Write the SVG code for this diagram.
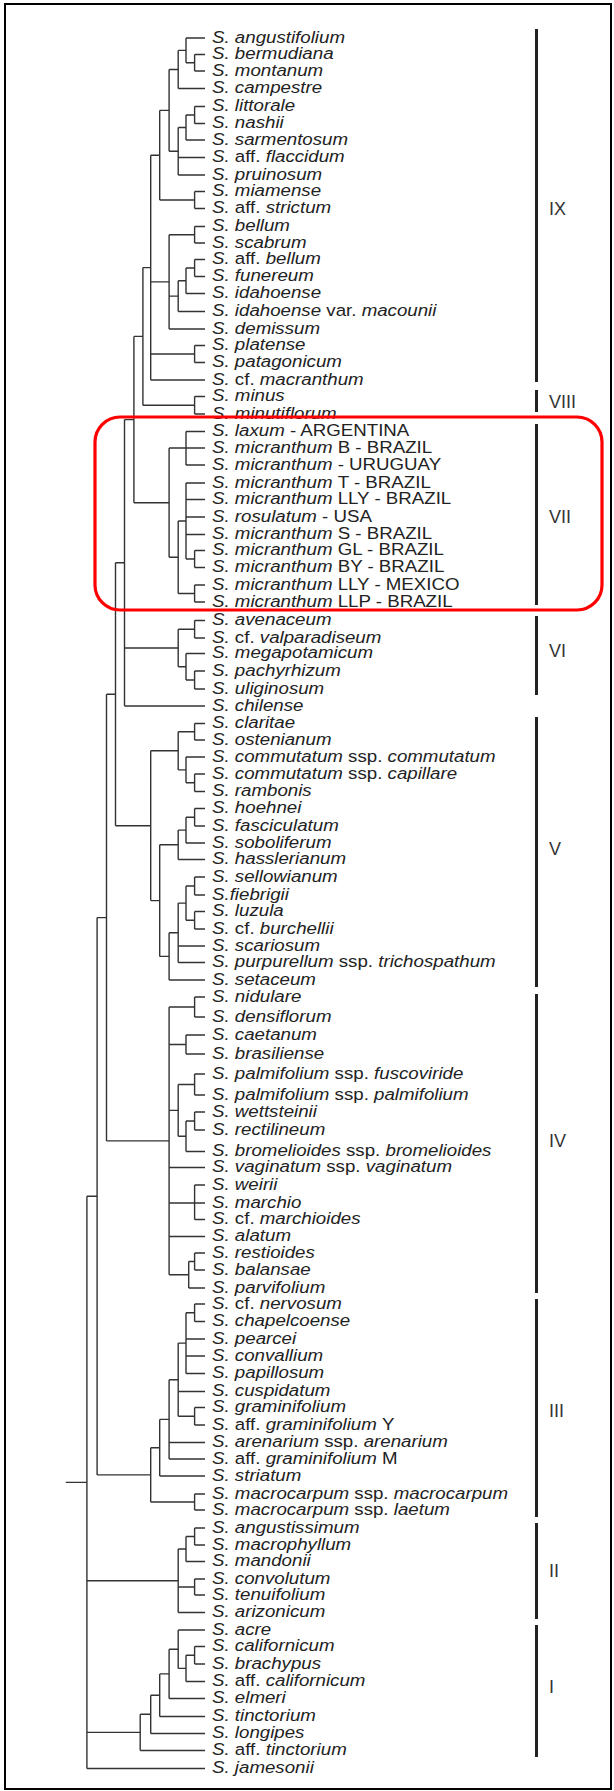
<svg xmlns="http://www.w3.org/2000/svg" width="614" height="1791" viewBox="0 0 614 1791">
<style>
.tree{fill:none;stroke:#333;stroke-width:1.4}
.lab text{font-family:"Liberation Sans",Arial,sans-serif;font-size:17px;font-style:italic;fill:#222}
.u{font-style:normal}
.bar{stroke:#222;stroke-width:3}
.num{font-family:"Liberation Sans",Arial,sans-serif;font-size:18px;fill:#333}
</style>
<rect x="5" y="4" width="606" height="1785" fill="#fff" stroke="#000" stroke-width="2"/>
<g id="connectors" class="tree">
<path d="M186 38H205M194.6 54.5H205M194.6 71H205M178.2 88.5H205M194.6 106.5H205M194.6 123.5H205M186 140H205M178.2 157.5H205M178.2 175H205M194.6 191.5H205M194.6 208.5H205M194.6 226.5H205M194.6 243H205M194.6 259.5H205M194.6 276.5H205M186 293.5H205M178.2 311.5H205M169.1 329H205M194.6 345.5H205M194.6 362.5H205M150.7 380H205M194.6 396.5H205M194.6 414H205M186 431.5H205M186 448H205M186 465H205M186 483H205M186 499.5H205M186 517H205M186 534.5H205M194.6 550.5H205M194.6 567.5H205M194.6 585H205M194.6 602H205M194.6 620.5H205M194.6 638H205M186 653.5H205M194.6 671H205M194.6 689H205M124.5 706H205M194.6 723.5H205M194.6 740H205M186 757H205M194.6 774H205M194.6 791.5H205M194.6 808.5H205M194.6 826H205M186 843H205M178.2 859.5H205M194.6 877H205M194.6 895H205M194.6 911.5H205M194.6 929H205M178.2 946H205M178.2 962.5H205M169.1 980H205M194.6 997H205M194.6 1017H205M186 1035H205M186 1054H205M194.6 1074H205M194.6 1095H205M194.6 1112H205M194.6 1130H205M186 1151.5H205M169.1 1167.5H205M194.6 1185H205M169.1 1203H205M194.6 1219.5H205M169.1 1236.5H205M194.6 1253H205M194.6 1270H205M188.7 1288H205M194.6 1304H205M194.6 1321.5H205M186 1339H205M186 1356H205M186 1373.5H205M178.2 1391.5H205M194.6 1407.5H205M194.6 1425H205M169.1 1442.5H205M169.1 1459H205M159.7 1476H205M194.6 1494H205M194.6 1510H205M194.6 1528H205M194.6 1545H205M186 1561.5H205M194.6 1579H205M194.6 1595H205M178.2 1612.5H205M178.2 1630H205M194.6 1646.5H205M194.6 1664H205M186 1681.5H205M169.1 1698.5H205M159.7 1716.5H205M150.7 1733.5H205M140.2 1750.5H205M86.9 1768.5H205"/>
<path d="M186 62.8H194.6M178.2 50.4H186M169.1 69.5H178.2M186 115H194.6M178.2 127.5H186M169.1 151.3H178.2M159.7 110.4H169.1M159.7 200H194.6M150.7 155.2H159.7M169.1 234.8H194.6M186 268H194.6M178.2 280.8H186M169.1 296.1H178.2M150.7 281.9H169.1M150.7 354H194.6M142.9 267.6H150.7M142.9 405.3H194.6M133.9 336.4H142.9M169.1 448H186M186 559H194.6M178.2 521H186M178.2 593.5H194.6M169.1 557.3H178.2M133.9 502.7H169.1M124.5 419.6H133.9M178.2 629.3H194.6M186 680H194.6M178.2 666.8H186M124.5 648H178.2M115.5 562.8H124.5M178.2 731.8H194.6M186 782.8H194.6M178.2 769.9H186M150.7 750.8H178.2M186 817.3H194.6M178.2 830.1H186M159.7 844.8H178.2M186 886H194.6M186 920.3H194.6M178.2 903.1H186M169.1 932.8H178.2M159.7 956.4H169.1M150.7 900.6H159.7M115.5 825.7H150.7M106.5 694.3H115.5M169.1 1007H194.6M169.1 1044.5H186M178.2 1084.5H194.6M186 1121H194.6M178.2 1136.3H186M169.1 1110.4H178.2M188.7 1261.5H194.6M169.1 1274.8H188.7M106.5 1140.9H169.1M97.1 917.6H106.5M186 1312.8H194.6M178.2 1343.1H186M178.2 1416.3H194.6M169.1 1379.7H178.2M159.7 1419.4H169.1M150.7 1447.7H159.7M150.7 1502H194.6M97.1 1474.9H150.7M86.9 1196.2H97.1M186 1536.5H194.6M178.2 1549H186M178.2 1587H194.6M86.9 1580.8H178.2M186 1655.3H194.6M178.2 1668.4H186M169.1 1649.2H178.2M159.7 1673.9H169.1M150.7 1695.2H159.7M140.2 1714.3H150.7M86.9 1732.4H140.2M65.8 1482.4H86.9"/>
<path d="M194.6 54.5V71M186 38V62.8M178.2 50.4V88.5M194.6 106.5V123.5M186 115V140M178.2 127.5V175M169.1 69.5V151.3M194.6 191.5V208.5M159.7 110.4V200M194.6 226.5V243M194.6 259.5V276.5M186 268V293.5M178.2 280.8V311.5M169.1 234.8V329M194.6 345.5V362.5M150.7 155.2V380M194.6 396.5V414M142.9 267.6V405.3M186 431.5V465M194.6 550.5V567.5M186 483V559M194.6 585V602M178.2 521V593.5M169.1 448V557.3M133.9 336.4V502.7M194.6 620.5V638M194.6 671V689M186 653.5V680M178.2 629.3V666.8M124.5 419.6V706M194.6 723.5V740M194.6 774V791.5M186 757V782.8M178.2 731.8V769.9M194.6 808.5V826M186 817.3V843M178.2 830.1V859.5M194.6 877V895M194.6 911.5V929M186 886V920.3M178.2 903.1V962.5M169.1 932.8V980M159.7 844.8V956.4M150.7 750.8V900.6M115.5 562.8V825.7M194.6 997V1017M186 1035V1054M194.6 1074V1095M194.6 1112V1130M186 1121V1151.5M178.2 1084.5V1136.3M194.6 1185V1219.5M194.6 1253V1270M188.7 1261.5V1288M169.1 1007V1274.8M106.5 694.3V1140.9M194.6 1304V1321.5M186 1312.8V1373.5M194.6 1407.5V1425M178.2 1343.1V1416.3M169.1 1379.7V1459M159.7 1419.4V1476M194.6 1494V1510M150.7 1447.7V1502M97.1 917.6V1474.9M194.6 1528V1545M186 1536.5V1561.5M194.6 1579V1595M178.2 1549V1612.5M194.6 1646.5V1664M186 1655.3V1681.5M178.2 1630V1668.4M169.1 1649.2V1698.5M159.7 1673.9V1716.5M150.7 1695.2V1733.5M140.2 1714.3V1750.5M86.9 1196.2V1768.5"/>
</g>
<g class="lab" transform="translate(212,0) scale(1.1,1)">
<g id="angustifolium"><text y="43">S. angustifolium</text></g>
<g id="bermudiana"><text y="59.5">S. bermudiana</text></g>
<g id="montanum"><text y="76">S. montanum</text></g>
<g id="campestre"><text y="93.5">S. campestre</text></g>
<g id="littorale"><text y="111.5">S. littorale</text></g>
<g id="nashii"><text y="128.5">S. nashii</text></g>
<g id="sarmentosum"><text y="145">S. sarmentosum</text></g>
<g id="aff-flaccidum"><text y="162.5">S. <tspan class="u">aff.</tspan> flaccidum</text></g>
<g id="pruinosum"><text y="180">S. pruinosum</text></g>
<g id="miamense"><text y="196.5">S. miamense</text></g>
<g id="aff-strictum"><text y="213.5">S. <tspan class="u">aff.</tspan> strictum</text></g>
<g id="bellum"><text y="231.5">S. bellum</text></g>
<g id="scabrum"><text y="248">S. scabrum</text></g>
<g id="aff-bellum"><text y="264.5">S. <tspan class="u">aff.</tspan> bellum</text></g>
<g id="funereum"><text y="281.5">S. funereum</text></g>
<g id="idahoense"><text y="298.5">S. idahoense</text></g>
<g id="idahoense-macounii"><text y="316.5">S. idahoense <tspan class="u">var.</tspan> macounii</text></g>
<g id="demissum"><text y="334">S. demissum</text></g>
<g id="platense"><text y="350.5">S. platense</text></g>
<g id="patagonicum"><text y="367.5">S. patagonicum</text></g>
<g id="cf-macranthum"><text y="385">S. <tspan class="u">cf.</tspan> macranthum</text></g>
<g id="minus"><text y="401.5">S. minus</text></g>
<g id="minutiflorum"><text y="419">S. minutiflorum</text></g>
<g id="laxum-argentina"><text y="436.5">S. laxum <tspan class="u">- ARGENTINA</tspan></text></g>
<g id="micranthum-b"><text y="453">S. micranthum <tspan class="u">B - BRAZIL</tspan></text></g>
<g id="micranthum-uruguay"><text y="470">S. micranthum <tspan class="u">- URUGUAY</tspan></text></g>
<g id="micranthum-t"><text y="488">S. micranthum <tspan class="u">T - BRAZIL</tspan></text></g>
<g id="micranthum-lly-brazil"><text y="504.5">S. micranthum <tspan class="u">LLY - BRAZIL</tspan></text></g>
<g id="rosulatum-usa"><text y="522">S. rosulatum <tspan class="u">- USA</tspan></text></g>
<g id="micranthum-s"><text y="539.5">S. micranthum <tspan class="u">S - BRAZIL</tspan></text></g>
<g id="micranthum-gl"><text y="555.5">S. micranthum <tspan class="u">GL - BRAZIL</tspan></text></g>
<g id="micranthum-by"><text y="572.5">S. micranthum <tspan class="u">BY - BRAZIL</tspan></text></g>
<g id="micranthum-lly-mexico"><text y="590">S. micranthum <tspan class="u">LLY - MEXICO</tspan></text></g>
<g id="micranthum-llp"><text y="607">S. micranthum <tspan class="u">LLP - BRAZIL</tspan></text></g>
<g id="avenaceum"><text y="625.5">S. avenaceum</text></g>
<g id="cf-valparadiseum"><text y="643">S. <tspan class="u">cf.</tspan> valparadiseum</text></g>
<g id="megapotamicum"><text y="658.5">S. megapotamicum</text></g>
<g id="pachyrhizum"><text y="676">S. pachyrhizum</text></g>
<g id="uliginosum"><text y="694">S. uliginosum</text></g>
<g id="chilense"><text y="711">S. chilense</text></g>
<g id="claritae"><text y="728.5">S. claritae</text></g>
<g id="ostenianum"><text y="745">S. ostenianum</text></g>
<g id="commutatum-commutatum"><text y="762">S. commutatum <tspan class="u">ssp.</tspan> commutatum</text></g>
<g id="commutatum-capillare"><text y="779">S. commutatum <tspan class="u">ssp.</tspan> capillare</text></g>
<g id="rambonis"><text y="796.5">S. rambonis</text></g>
<g id="hoehnei"><text y="813.5">S. hoehnei</text></g>
<g id="fasciculatum"><text y="831">S. fasciculatum</text></g>
<g id="soboliferum"><text y="848">S. soboliferum</text></g>
<g id="hasslerianum"><text y="864.5">S. hasslerianum</text></g>
<g id="sellowianum"><text y="882">S. sellowianum</text></g>
<g id="fiebrigii"><text y="900">S.fiebrigii</text></g>
<g id="luzula"><text y="916.5">S. luzula</text></g>
<g id="cf-burchellii"><text y="934">S. <tspan class="u">cf.</tspan> burchellii</text></g>
<g id="scariosum"><text y="951">S. scariosum</text></g>
<g id="purpurellum"><text y="967.5">S. purpurellum <tspan class="u">ssp.</tspan> trichospathum</text></g>
<g id="setaceum"><text y="985">S. setaceum</text></g>
<g id="nidulare"><text y="1002">S. nidulare</text></g>
<g id="densiflorum"><text y="1022">S. densiflorum</text></g>
<g id="caetanum"><text y="1040">S. caetanum</text></g>
<g id="brasiliense"><text y="1059">S. brasiliense</text></g>
<g id="palmifolium-fuscoviride"><text y="1079">S. palmifolium <tspan class="u">ssp.</tspan> fuscoviride</text></g>
<g id="palmifolium-palmifolium"><text y="1100">S. palmifolium <tspan class="u">ssp.</tspan> palmifolium</text></g>
<g id="wettsteinii"><text y="1117">S. wettsteinii</text></g>
<g id="rectilineum"><text y="1135">S. rectilineum</text></g>
<g id="bromelioides"><text y="1156.5">S. bromelioides <tspan class="u">ssp.</tspan> bromelioides</text></g>
<g id="vaginatum"><text y="1172.5">S. vaginatum <tspan class="u">ssp.</tspan> vaginatum</text></g>
<g id="weirii"><text y="1190">S. weirii</text></g>
<g id="marchio"><text y="1208">S. marchio</text></g>
<g id="cf-marchioides"><text y="1224.5">S. <tspan class="u">cf.</tspan> marchioides</text></g>
<g id="alatum"><text y="1241.5">S. alatum</text></g>
<g id="restioides"><text y="1258">S. restioides</text></g>
<g id="balansae"><text y="1275">S. balansae</text></g>
<g id="parvifolium"><text y="1293">S. parvifolium</text></g>
<g id="cf-nervosum"><text y="1309">S. <tspan class="u">cf.</tspan> nervosum</text></g>
<g id="chapelcoense"><text y="1326.5">S. chapelcoense</text></g>
<g id="pearcei"><text y="1344">S. pearcei</text></g>
<g id="convallium"><text y="1361">S. convallium</text></g>
<g id="papillosum"><text y="1378.5">S. papillosum</text></g>
<g id="cuspidatum"><text y="1396.5">S. cuspidatum</text></g>
<g id="graminifolium"><text y="1412.5">S. graminifolium</text></g>
<g id="aff-graminifolium-y"><text y="1430">S. <tspan class="u">aff.</tspan> graminifolium <tspan class="u">Y</tspan></text></g>
<g id="arenarium"><text y="1447.5">S. arenarium <tspan class="u">ssp.</tspan> arenarium</text></g>
<g id="aff-graminifolium-m"><text y="1464">S. <tspan class="u">aff.</tspan> graminifolium <tspan class="u">M</tspan></text></g>
<g id="striatum"><text y="1481">S. striatum</text></g>
<g id="macrocarpum-macrocarpum"><text y="1499">S. macrocarpum <tspan class="u">ssp.</tspan> macrocarpum</text></g>
<g id="macrocarpum-laetum"><text y="1515">S. macrocarpum <tspan class="u">ssp.</tspan> laetum</text></g>
<g id="angustissimum"><text y="1533">S. angustissimum</text></g>
<g id="macrophyllum"><text y="1550">S. macrophyllum</text></g>
<g id="mandonii"><text y="1566.5">S. mandonii</text></g>
<g id="convolutum"><text y="1584">S. convolutum</text></g>
<g id="tenuifolium"><text y="1600">S. tenuifolium</text></g>
<g id="arizonicum"><text y="1617.5">S. arizonicum</text></g>
<g id="acre"><text y="1635">S. acre</text></g>
<g id="californicum"><text y="1651.5">S. californicum</text></g>
<g id="brachypus"><text y="1669">S. brachypus</text></g>
<g id="aff-californicum"><text y="1686.5">S. <tspan class="u">aff.</tspan> californicum</text></g>
<g id="elmeri"><text y="1703.5">S. elmeri</text></g>
<g id="tinctorium"><text y="1721.5">S. tinctorium</text></g>
<g id="longipes"><text y="1738.5">S. longipes</text></g>
<g id="aff-tinctorium"><text y="1755.5">S. <tspan class="u">aff.</tspan> tinctorium</text></g>
<g id="jamesonii"><text y="1773.5">S. jamesonii</text></g>
</g>
<g id="clades">
<g id="clade-IX"><line class="bar" x1="536.5" y1="29" x2="536.5" y2="382"/><text class="num" x="549" y="215">IX</text></g>
<g id="clade-VIII"><line class="bar" x1="536.5" y1="390" x2="536.5" y2="412"/><text class="num" x="549" y="408">VIII</text></g>
<g id="clade-VII"><line class="bar" x1="536.5" y1="424" x2="536.5" y2="605"/><text class="num" x="549" y="523">VII</text></g>
<g id="clade-VI"><line class="bar" x1="536.5" y1="616" x2="536.5" y2="695"/><text class="num" x="549" y="656.5">VI</text></g>
<g id="clade-V"><line class="bar" x1="536.5" y1="717" x2="536.5" y2="987"/><text class="num" x="549" y="855">V</text></g>
<g id="clade-IV"><line class="bar" x1="536.5" y1="994" x2="536.5" y2="1293"/><text class="num" x="549" y="1147">IV</text></g>
<g id="clade-III"><line class="bar" x1="536.5" y1="1299" x2="536.5" y2="1517"/><text class="num" x="549" y="1416.5">III</text></g>
<g id="clade-II"><line class="bar" x1="536.5" y1="1523" x2="536.5" y2="1619"/><text class="num" x="549" y="1576.5">II</text></g>
<g id="clade-I"><line class="bar" x1="536.5" y1="1625" x2="536.5" y2="1757"/><text class="num" x="549" y="1693">I</text></g>
</g>
<rect id="highlight" x="95" y="417" width="507" height="193" rx="25" ry="25" fill="none" stroke="#f00" stroke-width="3.2"/>
</svg>
